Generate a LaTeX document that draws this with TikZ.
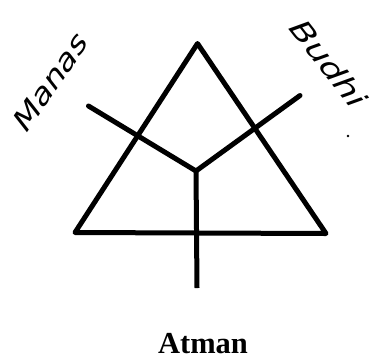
\documentclass[tikz,border=0pt]{standalone}
\usepackage{fontspec}
\setmainfont{Liberation Serif}
\newfontfamily\handfont[FakeSlant=0.25]{DejaVu Sans}
\begin{document}
\begin{tikzpicture}[x=1pt,y=-1pt,
  stroke/.style={line width=5pt,line join=round,line cap=round},
  hand/.style={font=\handfont\fontsize{28}{28}\selectfont,inner sep=0pt},
  title/.style={font=\bfseries\fontsize{30.5}{30.5}\selectfont,inner sep=0pt}]
\useasboundingbox (0,0) rectangle (382,360);
\coordinate (top) at (197.5,43.5);
\coordinate (bl) at (75,232.5);
\coordinate (br) at (326,233.5);
\coordinate (c) at (196,171);
\coordinate (m) at (88.5,106);
\coordinate (b) at (300,95.5);
\coordinate (d) at (197,288);
\draw[stroke] (top) -- (br) -- (bl) -- cycle;
\draw[stroke] (m) -- (c) -- (b);
\draw[stroke,line cap=butt] (c) -- (d);
\node[hand,rotate=55] (manas) at (49,84) {\scalebox{1.22}[1]{Manas}};
\node[hand,rotate=-52] (budhi) at (327,61) {\scalebox{1.3}[1]{Budhi}};
\fill (348,136) circle (1.3);
\node[title] (atman) at (203,344) {Atman};
\end{tikzpicture}
\end{document}
